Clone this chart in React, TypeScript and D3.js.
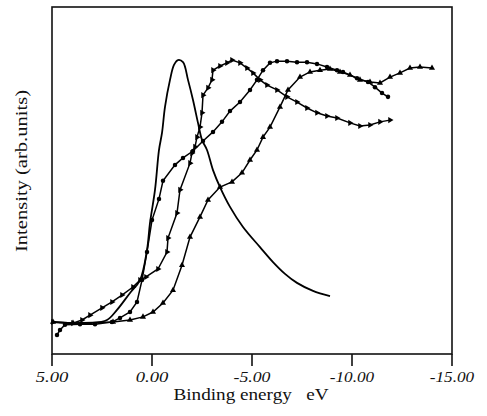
import React from "react";
import * as d3 from "d3";

// X-axis ticks (binding energy, eV)
const xTicks = [5, 0, -5, -10, -15];
const xTickLabels = ["5.00", "0.00", "-5.00", "-10.00", "-15.00"];

// Solid curve (no markers)
const solidE = [4.95, 3.95, 3.1, 2.25, 1.75, 1.1, 0.6, 0.25, 0.1, -0.15, -0.35, -0.5, -0.65, -0.9, -1.1, -1.3, -1.55, -1.8, -2.05, -2.3, -2.5, -2.75, -3.05, -3.4, -3.9, -4.55, -5.4, -6.05, -6.65, -7.25, -8.05, -8.9];
const solidI = [9.2, 8.9, 8.9, 9.8, 12.7, 17.6, 21.3, 30.0, 37.8, 47.3, 58.8, 63.7, 71.2, 79.0, 83.3, 84.7, 84.1, 79.0, 73.2, 66.6, 61.7, 58.8, 53.0, 48.1, 42.4, 36.6, 30.8, 26.5, 23.1, 20.5, 18.2, 16.7];

// Curve with small triangle markers, peaking near -4 eV
const bE = [4.95, 3.95, 3.5, 3.1, 2.5, 2.0, 1.5, 0.95, 0.6, 0.3, -0.3, -0.75, -0.8, -1.25, -1.4, -1.9, -2.0, -2.15, -2.25, -2.4, -2.5, -2.55, -2.8, -3.0, -3.05, -3.4, -3.75, -4.0, -4.4, -4.75, -5.05, -5.4, -5.75, -6.25, -6.75, -7.25, -7.75, -8.25, -8.75, -9.25, -9.9, -10.4, -10.9, -11.4, -11.9];
const bI = [9.2, 8.9, 9.8, 11.2, 13.3, 15.0, 17.0, 19.3, 21.3, 22.2, 24.5, 29.4, 33.4, 40.6, 47.3, 55.0, 57.9, 59.7, 62.5, 65.4, 69.5, 74.6, 76.7, 79.0, 81.8, 83.0, 83.9, 84.7, 83.9, 82.4, 81.0, 79.0, 77.5, 76.1, 74.1, 72.6, 70.9, 69.5, 68.6, 68.0, 66.6, 65.7, 66.0, 66.9, 67.4];

// Curve with filled circle markers
const cE = [4.75, 4.6, 4.35, 3.6, 2.85, 2.0, 1.6, 1.1, 0.75, 0.5, 0.25, 0.0, -0.35, -0.55, -1.15, -1.55, -2.05, -2.55, -3.05, -3.5, -3.9, -4.4, -4.9, -5.25, -5.55, -5.9, -6.25, -6.75, -7.25, -7.75, -8.25, -8.75, -9.25, -9.55, -10.25, -10.8, -11.15, -11.5, -11.8];
const cI = [5.5, 6.9, 8.4, 8.6, 8.6, 9.2, 10.4, 12.1, 15.0, 21.3, 29.4, 38.6, 44.7, 49.9, 54.5, 56.5, 58.5, 61.4, 64.0, 66.9, 70.0, 72.6, 76.1, 79.0, 81.8, 83.9, 84.4, 84.4, 84.1, 84.1, 83.6, 82.7, 81.8, 81.3, 79.5, 78.4, 76.9, 75.2, 74.1];

// Curve with triangle markers, rising latest
const dE = [4.95, 3.95, 1.95, 1.1, 0.45, -0.05, -0.55, -1.05, -1.5, -1.9, -2.4, -2.8, -3.4, -4.0, -4.5, -4.9, -5.25, -5.55, -5.9, -6.4, -6.8, -7.4, -7.9, -8.4, -8.9, -9.4, -9.9, -10.4, -10.9, -11.4, -11.9, -12.4, -12.9, -13.4, -14.0];
const dI = [9.2, 8.9, 9.2, 9.8, 10.7, 12.1, 14.7, 18.4, 25.6, 33.7, 39.5, 44.4, 48.1, 49.6, 52.2, 55.9, 58.8, 62.5, 65.4, 71.2, 76.1, 79.8, 81.3, 81.8, 82.1, 81.3, 80.4, 79.0, 78.4, 78.1, 79.8, 81.0, 82.4, 82.7, 82.4];

const W = 487;
const H = 416;
const left = 52, right = 452, top = 7, bottom = 354;

export default function App() {
  const x = d3.scaleLinear().domain([5, -15]).range([left, right]);
  const y = d3.scaleLinear().domain([0, 100]).range([bottom, top]);

  const zip = (es: number[], is: number[]) => es.map((e, i) => [e, is[i]] as [number, number]);
  const smooth = d3.line<[number, number]>().x(d => x(d[0])).y(d => y(d[1])).curve(d3.curveCatmullRom.alpha(0.5));
  const lin = d3.line<[number, number]>().x(d => x(d[0])).y(d => y(d[1]));

  const solid = zip(solidE, solidI);
  const b = zip(bE, bI);
  const c = zip(cE, cI);
  const dd = zip(dE, dI);

  const tri = d3.symbol().type(d3.symbolTriangle).size(16)() || "";
  const circ = d3.symbol().type(d3.symbolCircle).size(16)() || "";

  const serif = "Liberation Serif, Times New Roman, serif";

  return (
    <svg width={W} height={H} style={{ position: "absolute", left: 0, top: 0, background: "#fff" }}>
      <rect x={0} y={0} width={W} height={H} fill="#fff" />
      {/* frame */}
      <rect x={left} y={top} width={right - left} height={bottom - top} fill="none" stroke="#111" strokeWidth={1.6} />
      {/* x ticks */}
      {xTicks.map((t, i) => (
        <g key={i}>
          <line x1={x(t)} x2={x(t)} y1={bottom} y2={bottom + 12} stroke="#111" strokeWidth={1.6} />
          <text x={x(t)} y={382} textAnchor="middle" style={{ fontFamily: serif, fontStyle: "italic", fontSize: 15 }}
            textLength={xTickLabels[i].length * 7.4 + (xTickLabels[i].startsWith("-") ? 0 : 3)} lengthAdjust="spacingAndGlyphs" fill="#111">
            {xTickLabels[i]}
          </text>
        </g>
      ))}
      <text x={251} y={400} textAnchor="middle" style={{ fontFamily: serif, fontSize: 16, whiteSpace: "pre" }} textLength={155} lengthAdjust="spacingAndGlyphs" fill="#111">
        {"Binding energy   eV"}
      </text>
      <text transform="translate(27,171) rotate(-90)" textAnchor="middle" style={{ fontFamily: serif, fontSize: 16 }} textLength={162} lengthAdjust="spacingAndGlyphs" fill="#111">
        Intensity (arb.units)
      </text>

      {/* curves */}
      <path d={smooth(solid) || ""} fill="none" stroke="#000" strokeWidth={1.8} />
      <path d={lin(b) || ""} fill="none" stroke="#000" strokeWidth={1.5} />
      <path d={lin(c) || ""} fill="none" stroke="#000" strokeWidth={1.5} />
      <path d={lin(dd) || ""} fill="none" stroke="#000" strokeWidth={1.5} />

      {b.map((p, i) => (
        <path key={"b" + i} d={tri} transform={`translate(${x(p[0])},${y(p[1])}) rotate(90)`} fill="#000" />
      ))}
      {c.map((p, i) => (
        <path key={"c" + i} d={circ} transform={`translate(${x(p[0])},${y(p[1])})`} fill="#000" />
      ))}
      {dd.map((p, i) => (
        <path key={"d" + i} d={tri} transform={`translate(${x(p[0])},${y(p[1])})`} fill="#000" />
      ))}
    </svg>
  );
}
